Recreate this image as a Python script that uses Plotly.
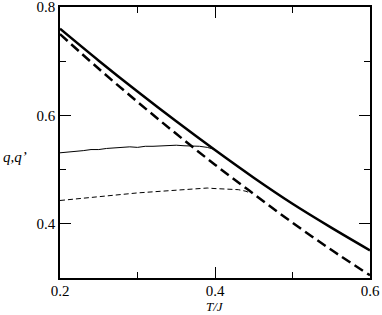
import plotly.graph_objects as go

# thick curves (T/J, q)
t_thick = [0.20, 0.25, 0.30, 0.35, 0.40, 0.45, 0.50, 0.55, 0.60]
q_solid = [0.760, 0.701, 0.644, 0.589, 0.536, 0.485, 0.437, 0.393, 0.351]
q_dashed = [0.750, 0.686, 0.625, 0.566, 0.509, 0.455, 0.402, 0.352, 0.305]

# thin curves (simulation data, slightly noisy)
t_thin_solid = [0.20, 0.21, 0.22, 0.23, 0.24, 0.25, 0.26, 0.27, 0.28, 0.29, 0.30,
                0.31, 0.32, 0.33, 0.34, 0.35, 0.36, 0.37, 0.38, 0.39, 0.40]
q_thin_solid = [0.531, 0.532, 0.534, 0.535, 0.537, 0.537, 0.539, 0.540, 0.540, 0.542, 0.541,
                0.543, 0.543, 0.544, 0.544, 0.545, 0.544, 0.544, 0.543, 0.541, 0.537]

t_thin_dashed = [0.20, 0.22, 0.24, 0.26, 0.28, 0.30, 0.32, 0.34, 0.36, 0.38, 0.39,
                 0.40, 0.42, 0.43, 0.44, 0.445]
q_thin_dashed = [0.443, 0.446, 0.449, 0.452, 0.455, 0.457, 0.459, 0.461, 0.463, 0.465, 0.466,
                 0.465, 0.464, 0.463, 0.460, 0.457]

FONT = 'Liberation Serif, Times New Roman, serif'

fig = go.Figure()
fig.add_trace(go.Scatter(x=t_thin_solid, y=q_thin_solid, mode='lines',
                         line=dict(color='black', width=1)))
fig.add_trace(go.Scatter(x=t_thin_dashed, y=q_thin_dashed, mode='lines',
                         line=dict(color='black', width=1, dash='5px,3px')))
fig.add_trace(go.Scatter(x=t_thick, y=q_solid, mode='lines', line_shape='spline',
                         line=dict(color='black', width=2.5)))
fig.add_trace(go.Scatter(x=t_thick, y=q_dashed, mode='lines', line_shape='spline',
                         line=dict(color='black', width=2.5, dash='10px,5px')))

axis_common = dict(showline=True, linecolor='black', linewidth=1.5, mirror='ticks',
                   ticks='inside', ticklen=11, tickwidth=1, tickcolor='black',
                   showgrid=False, zeroline=False, automargin=False,
                   ticklabeloverflow='allow',
                   tickfont=dict(family=FONT, size=15, color='black'),
                   minor=dict(ticks='inside', ticklen=6, dtick=0.1, tickcolor='black', showgrid=False))

fig.update_xaxes(range=[0.2, 0.6], tickvals=[0.2, 0.4, 0.6], ticktext=['0.2', '0.4', '0.6'],
                 ticklabelstandoff=-2, **axis_common)
fig.update_yaxes(range=[0.3, 0.8], tickvals=[0.4, 0.6, 0.8], ticktext=['0.4', '0.6', '0.8'],
                 **axis_common)

# axis titles (y title is horizontal, sitting a bit below the middle)
fig.add_annotation(text='<i>T/J</i>', xref='paper', yref='paper', x=0.5, y=-0.107,
                   xanchor='center', yanchor='middle', borderpad=0,
                   showarrow=False, font=dict(family=FONT, size=13, color='black'))
fig.add_annotation(text='<i>q,q’</i>', xref='paper', yref='paper', x=-0.145, y=0.447,
                   xanchor='center', yanchor='middle',
                   showarrow=False, font=dict(family=FONT, size=15, color='black'))

fig.update_layout(width=382, height=315, showlegend=False,
                  margin=dict(l=60, r=12, t=7, b=37),
                  font=dict(family=FONT, color='black'),
                  plot_bgcolor='white', paper_bgcolor='white')

# drop the browser's default body margin so the figure sits at the page corner
fig.write_html("out.html", config={'displayModeBar': False},
               post_script="document.body.style.margin='0';")
